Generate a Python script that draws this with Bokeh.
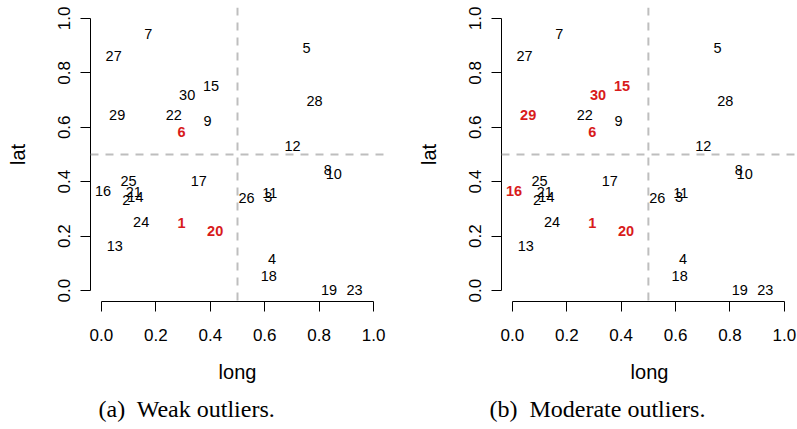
from bokeh.plotting import figure
from bokeh.layouts import row
from bokeh.models import ColumnDataSource, Span, Title, FixedTicker, PrintfTickFormatter
from bokeh.core.properties import value
from bokeh.embed import file_html
from bokeh.resources import INLINE

# ---- data ----
ids = list(range(1, 31))
long_vals = [0.294, 0.091, 0.613, 0.627, 0.754, 0.294, 0.172, 0.832, 0.390, 0.854,
             0.619, 0.702, 0.049, 0.125, 0.403, 0.006, 0.358, 0.615, 0.836, 0.418,
             0.119, 0.266, 0.930, 0.146, 0.100, 0.533, 0.045, 0.783, 0.058, 0.315]
lat_vals = [0.247, 0.333, 0.345, 0.116, 0.890, 0.583, 0.944, 0.443, 0.624, 0.428,
            0.357, 0.532, 0.165, 0.345, 0.751, 0.367, 0.404, 0.055, 0.004, 0.220,
            0.361, 0.645, 0.004, 0.251, 0.401, 0.340, 0.862, 0.697, 0.645, 0.718]
weak_outliers = [1, 6, 20]
moderate_outliers = [1, 6, 15, 16, 20, 29, 30]
ticks = [0.0, 0.2, 0.4, 0.6, 0.8, 1.0]
cut_long = 0.5
cut_lat = 0.5
captions = ["(a)\u00a0 Weak outliers.", "(b)\u00a0 Moderate outliers."]

SANS = "Liberation Sans"
SERIF = "Liberation Serif"
RED = "#D81B1B"


def make_panel(outliers, caption, width, border_right, x_end, cap_offset):
    p = figure(width=width, height=429, x_range=(-0.04, x_end), y_range=(-0.04, 1.04),
               output_backend="svg", toolbar_location=None,
               min_border_left=90, min_border_top=7, min_border_right=border_right,
               min_border_bottom=128)
    p.outline_line_color = None
    p.grid.grid_line_color = None
    p.background_fill_color = "white"
    p.border_fill_color = "white"

    for ax in (p.xaxis[0], p.yaxis[0]):
        ax.bounds = (0, 1)
        ax.ticker = FixedTicker(ticks=ticks)
        ax.formatter = PrintfTickFormatter(format="%.1f")
        ax.minor_tick_line_color = None
        ax.major_tick_in = 0
        ax.major_tick_out = 10
        ax.axis_line_color = "black"
        ax.major_tick_line_color = "black"
        ax.major_label_text_font = SANS
        ax.major_label_text_font_size = "17px"
        ax.major_label_text_color = "black"
        ax.axis_label_text_font = SANS
        ax.axis_label_text_font_size = "20px"
        ax.axis_label_text_font_style = "normal"
        ax.axis_label_text_color = "black"
    p.xaxis.axis_label = "long"
    p.yaxis.axis_label = "lat"
    p.xaxis.major_label_standoff = 17
    p.yaxis.major_label_standoff = 10
    p.xaxis.axis_label_standoff = 17
    p.yaxis.axis_label_standoff = 27
    p.yaxis.major_label_orientation = "vertical"

    p.add_layout(Span(location=cut_long, dimension="height", line_color="#BEBEBE",
                      line_width=2, line_dash="8 7"))
    p.add_layout(Span(location=cut_lat, dimension="width", line_color="#BEBEBE",
                      line_width=2, line_dash="8 7"))

    norm = [i for i in ids if i not in outliers]
    src_n = ColumnDataSource(dict(x=[long_vals[i - 1] for i in norm],
                                  y=[lat_vals[i - 1] for i in norm],
                                  t=[str(i) for i in norm]))
    src_o = ColumnDataSource(dict(x=[long_vals[i - 1] for i in outliers],
                                  y=[lat_vals[i - 1] for i in outliers],
                                  t=[str(i) for i in outliers]))
    p.text(x="x", y="y", text="t", source=src_n, text_align="center", text_baseline="middle",
           text_font=value(SANS), text_font_size=value("14.5px"), text_color="black")
    p.text(x="x", y="y", text="t", source=src_o, text_align="center", text_baseline="middle",
           text_font=value(SANS), text_font_size=value("14.5px"), text_color=RED,
           text_font_style="bold")

    p.add_layout(Title(text=caption, text_font=SERIF, text_font_size="24px",
                       text_font_style="normal", text_color="black", standoff=16,
                       align="left", offset=cap_offset), "below")
    return p


p1 = make_panel(weak_outliers, captions[0], 411, 27, 1.04, 8)
p2 = make_panel(moderate_outliers, captions[1], 386, 0, -0.04 + 296 / 272, -12)
layout = row(p1, p2)

open("out.html", "w").write(file_html(layout, INLINE))
